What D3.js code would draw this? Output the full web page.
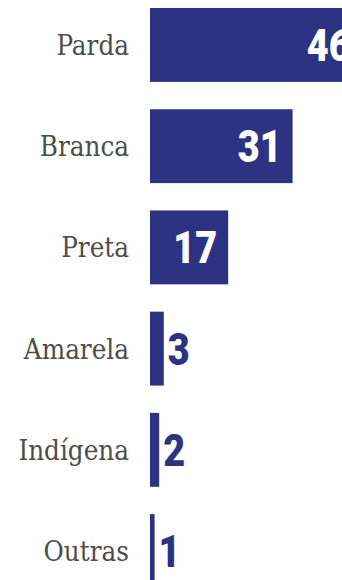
<!DOCTYPE html>
<html>
<head>
<meta charset="utf-8">
<script src="https://cdn.jsdelivr.net/npm/d3@7"></script>
<style>
  html, body { margin: 0; padding: 0; background: #fff; overflow: hidden; }
  svg { display: block; }
</style>
</head>
<body>
<script>
// Distribuição por cor/raça (%)
const categories = ["Parda", "Branca", "Preta", "Amarela", "Indígena", "Outras"];
const values = [46, 31, 17, 3, 2, 1];

const W = 342, H = 580;
const barColor = "#2e3282";
const labelColor = "#4d4d4d";

const svg = d3.select("body").append("svg")
  .attr("width", W).attr("height", H);

const x = d3.scaleLinear().domain([0, 50]).range([150, 380]);
const y = d3.scaleBand().domain(categories).range([8, 588]).paddingInner(0.27).paddingOuter(0);

const data = categories.map((c, i) => ({ cat: c, val: values[i] }));

// Bars
svg.selectAll("rect.bar").data(data).join("rect")
  .attr("class", "bar")
  .attr("x", x(0))
  .attr("y", d => y(d.cat))
  .attr("width", d => x(d.val) - x(0))
  .attr("height", y.bandwidth())
  .attr("fill", barColor);

// Category labels
svg.selectAll("text.cat").data(data).join("text")
  .attr("class", "cat")
  .attr("x", x(0) - 21)
  .attr("y", d => y(d.cat) + y.bandwidth() / 2 + 10)
  .attr("text-anchor", "end")
  .attr("font-family", "'DejaVu Serif', serif")
  .style("font-stretch", "condensed")
  .attr("font-size", 27.5)
  .attr("fill", labelColor)
  .text(d => d.cat);

// Value labels: inside the bar when it is wide enough, otherwise just past its end
const inside = d => x(d.val) - x(0) > 50;
const sx = 0.86;
const vg = svg.selectAll("g.val").data(data).join("g")
  .attr("class", "val")
  .attr("transform", d => {
    const px = inside(d) ? x(d.val) - 11 : x(d.val) + 4;
    return `translate(${px},${y(d.cat) + y.bandwidth() / 2 + 16}) scale(${sx},1)`;
  });
vg.append("text")
  .attr("text-anchor", d => inside(d) ? "end" : "start")
  .attr("font-family", "Roboto, 'Open Sans', sans-serif")
  .attr("font-weight", 900)
  .attr("font-size", 44)
  .attr("fill", d => inside(d) ? "#ffffff" : barColor)
  .text(d => d.val);
</script>
</body>
</html>
